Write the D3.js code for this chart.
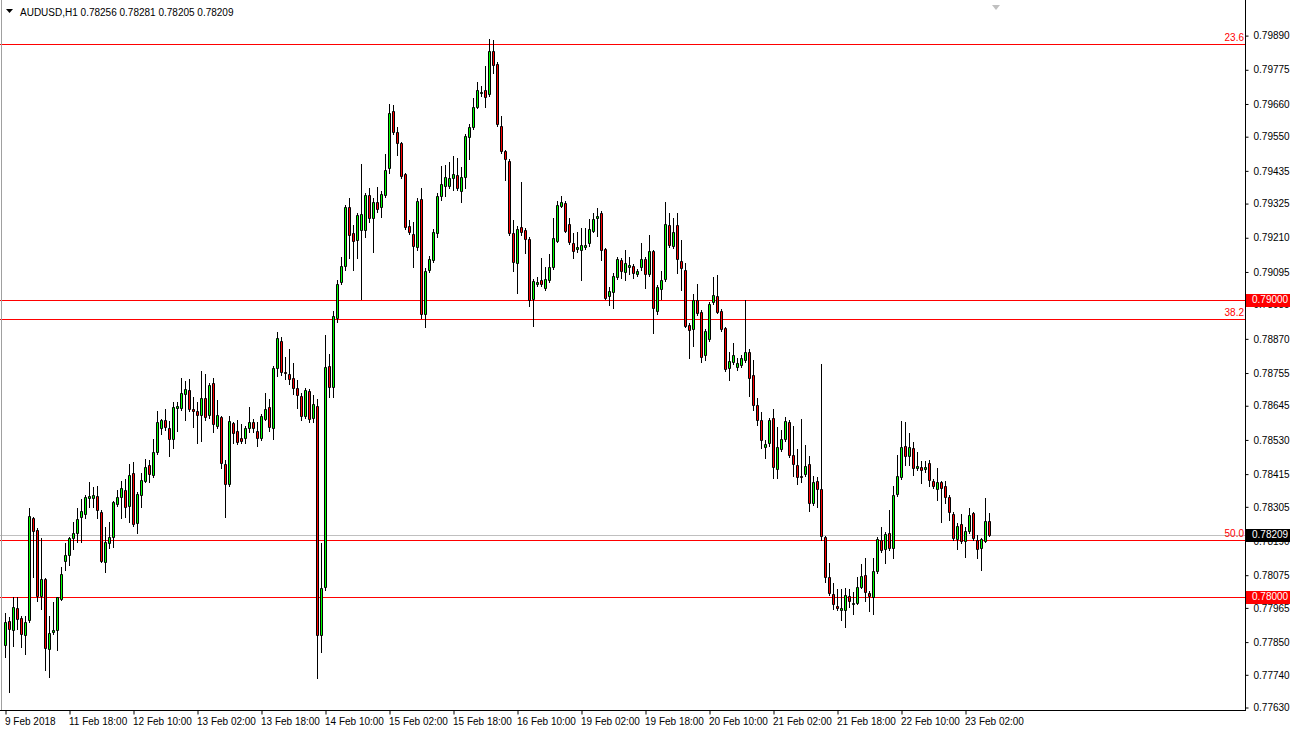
<!DOCTYPE html>
<html><head><meta charset="utf-8">
<script src="https://cdn.jsdelivr.net/npm/d3@7"></script>
<style>html,body{margin:0;padding:0;background:#fff;overflow:hidden}svg{display:block}</style>
</head><body><svg id="c" width="1291" height="733"></svg>
<script>
const symbolTitle = "AUDUSD,H1";
const opens = [
0.77838,0.77919,0.77889,0.77963,0.77929,0.77872,0.77922,0.78266,0.78225,0.78003,
0.78060,0.77825,0.77882,0.77889,0.77993,0.78121,0.78141,0.78198,0.78215,0.78269,
0.78279,0.78333,0.78333,0.78340,0.78286,0.78118,0.78182,0.78202,0.78313,0.78336,
0.78360,0.78306,0.78417,0.78249,0.78343,0.78390,0.78444,0.78410,0.78488,0.78568,
0.78595,0.78568,0.78531,0.78636,0.78636,0.78683,0.78696,0.78632,0.78626,0.78612,
0.78669,0.78612,0.78720,0.78575,0.78605,0.78447,0.78380,0.78585,0.78558,0.78535,
0.78535,0.78568,0.78589,0.78558,0.78535,0.78599,0.78639,0.78568,0.78770,0.78861,
0.78757,0.78750,0.78737,0.78703,0.78676,0.78609,0.78693,0.78602,0.78642,0.77872,
0.78034,0.78777,0.78706,0.78938,0.79060,0.79113,0.79312,0.79224,0.79201,0.79234,
0.79234,0.79352,0.79275,0.79329,0.79312,0.79352,0.79443,0.79635,0.79564,0.79527,
0.79423,0.79248,0.79221,0.79177,0.79339,0.78952,0.79100,0.79134,0.79224,0.79349,
0.79382,0.79382,0.79409,0.79419,0.79366,0.79413,0.79547,0.79581,0.79648,0.79695,
0.79705,0.79692,0.79837,0.79793,0.79584,0.79500,0.79466,0.79224,0.79123,0.79245,
0.79234,0.79204,0.79002,0.79053,0.79066,0.79039,0.79066,0.79110,0.79197,0.79315,
0.79325,0.79255,0.79191,0.79171,0.79167,0.79177,0.79191,0.79231,0.79275,0.79292,
0.79171,0.79012,0.79026,0.79076,0.79134,0.79093,0.79110,0.79113,0.79086,0.79110,
0.79137,0.79086,0.79164,0.78962,0.79036,0.79070,0.79251,0.79181,0.79251,0.79130,
0.79100,0.78915,0.78901,0.78999,0.78959,0.78814,0.78868,0.78992,0.79012,0.78962,
0.78905,0.78770,0.78790,0.78774,0.78780,0.78797,0.78824,0.78747,0.78646,0.78595,
0.78504,0.78518,0.78602,0.78430,0.78498,0.78531,0.78589,0.78478,0.78444,0.78407,
0.78414,0.78447,0.78316,0.78390,0.78363,0.78202,0.78067,0.78010,0.77970,0.77956,
0.77956,0.78003,0.77976,0.77980,0.78034,0.78074,0.78013,0.78000,0.78087,0.78192,
0.78161,0.78215,0.78165,0.78346,0.78403,0.78508,0.78474,0.78501,0.78434,0.78437,
0.78430,0.78451,0.78390,0.78363,0.78387,0.78373,0.78336,0.78279,0.78195,0.78246,
0.78188,0.78222,0.78283,0.78192,0.78165,0.78188,0.78256];
const highs = [
0.77946,0.77933,0.78000,0.78000,0.77936,0.77936,0.78299,0.78269,0.78232,0.78198,
0.78064,0.77936,0.77983,0.78000,0.78101,0.78182,0.78202,0.78252,0.78299,0.78330,
0.78343,0.78387,0.78370,0.78373,0.78293,0.78235,0.78252,0.78323,0.78360,0.78390,
0.78397,0.78447,0.78454,0.78353,0.78417,0.78464,0.78461,0.78531,0.78626,0.78599,
0.78632,0.78592,0.78656,0.78656,0.78737,0.78726,0.78733,0.78673,0.78656,0.78760,
0.78750,0.78720,0.78737,0.78663,0.78609,0.78461,0.78609,0.78589,0.78595,0.78582,
0.78575,0.78639,0.78599,0.78589,0.78615,0.78686,0.78666,0.78777,0.78891,0.78874,
0.78807,0.78834,0.78787,0.78730,0.78686,0.78703,0.78700,0.78679,0.78666,0.78182,
0.78881,0.78817,0.78962,0.79066,0.79144,0.79319,0.79342,0.79251,0.79292,0.79456,
0.79359,0.79376,0.79342,0.79379,0.79366,0.79490,0.79658,0.79655,0.79581,0.79530,
0.79426,0.79268,0.79261,0.79342,0.79376,0.79107,0.79147,0.79238,0.79359,0.79450,
0.79453,0.79463,0.79483,0.79477,0.79446,0.79557,0.79591,0.79678,0.79732,0.79719,
0.79786,0.79877,0.79874,0.79800,0.79618,0.79503,0.79473,0.79268,0.79248,0.79396,
0.79241,0.79211,0.79070,0.79076,0.79140,0.79110,0.79154,0.79275,0.79332,0.79349,
0.79332,0.79275,0.79224,0.79228,0.79241,0.79241,0.79271,0.79292,0.79308,0.79298,
0.79174,0.79043,0.79090,0.79144,0.79140,0.79167,0.79144,0.79120,0.79103,0.79191,
0.79144,0.79218,0.79167,0.79049,0.79097,0.79329,0.79292,0.79275,0.79292,0.79201,
0.79123,0.78922,0.79019,0.79053,0.78965,0.78901,0.78992,0.79076,0.79083,0.78969,
0.78908,0.78824,0.78854,0.78804,0.78814,0.78999,0.78834,0.78797,0.78669,0.78622,
0.78528,0.78602,0.78632,0.78572,0.78562,0.78605,0.78595,0.78575,0.78498,0.78599,
0.78511,0.78474,0.78407,0.78403,0.78784,0.78205,0.78114,0.78047,0.78027,0.78027,
0.78030,0.78027,0.78017,0.78067,0.78111,0.78131,0.78020,0.78131,0.78202,0.78235,
0.78219,0.78293,0.78373,0.78478,0.78592,0.78589,0.78552,0.78521,0.78488,0.78457,
0.78457,0.78461,0.78397,0.78434,0.78390,0.78390,0.78343,0.78286,0.78249,0.78279,
0.78235,0.78299,0.78286,0.78209,0.78198,0.78333,0.78281];
const lows = [
0.77798,0.77680,0.77835,0.77892,0.77832,0.77808,0.77916,0.78067,0.77986,0.77960,
0.77754,0.77731,0.77875,0.77822,0.77990,0.78091,0.78108,0.78161,0.78185,0.78185,
0.78266,0.78303,0.78303,0.78266,0.78118,0.78084,0.78165,0.78168,0.78306,0.78266,
0.78269,0.78252,0.78239,0.78215,0.78303,0.78387,0.78387,0.78403,0.78481,0.78548,
0.78562,0.78474,0.78501,0.78558,0.78629,0.78595,0.78626,0.78572,0.78518,0.78525,
0.78595,0.78602,0.78555,0.78568,0.78434,0.78269,0.78373,0.78518,0.78515,0.78518,
0.78518,0.78555,0.78555,0.78508,0.78528,0.78595,0.78558,0.78531,0.78743,0.78747,
0.78733,0.78716,0.78683,0.78636,0.78595,0.78602,0.78589,0.78589,0.77727,0.77815,
0.78024,0.78673,0.78673,0.78925,0.79053,0.79100,0.79140,0.79100,0.79140,0.79002,
0.79211,0.79261,0.79160,0.79295,0.79278,0.79345,0.79426,0.79557,0.79487,0.79409,
0.79238,0.79221,0.79110,0.79167,0.78938,0.78908,0.79093,0.79127,0.79211,0.79335,
0.79349,0.79376,0.79369,0.79369,0.79329,0.79376,0.79473,0.79574,0.79645,0.79685,
0.79648,0.79685,0.79763,0.79584,0.79493,0.79403,0.79218,0.79097,0.79023,0.79218,
0.79157,0.78979,0.78911,0.79046,0.79046,0.79033,0.79060,0.79103,0.79194,0.79312,
0.79228,0.79187,0.79140,0.79160,0.79066,0.79171,0.79181,0.79228,0.79214,0.79134,
0.79002,0.78982,0.78972,0.79070,0.79073,0.79066,0.79086,0.79073,0.79080,0.79100,
0.79039,0.79080,0.78888,0.78952,0.79002,0.79063,0.79177,0.79174,0.79090,0.79033,
0.78908,0.78804,0.78844,0.78948,0.78790,0.78797,0.78861,0.78985,0.78955,0.78895,
0.78760,0.78730,0.78784,0.78763,0.78774,0.78790,0.78676,0.78629,0.78579,0.78501,
0.78467,0.78508,0.78400,0.78400,0.78491,0.78525,0.78471,0.78407,0.78380,0.78387,
0.78407,0.78289,0.78309,0.78303,0.78192,0.78050,0.78007,0.77960,0.77956,0.77923,
0.77899,0.77966,0.77943,0.77976,0.78030,0.77986,0.77953,0.77943,0.78081,0.78151,
0.78114,0.78158,0.78131,0.78340,0.78397,0.78444,0.78444,0.78410,0.78427,0.78383,
0.78420,0.78373,0.78367,0.78326,0.78252,0.78316,0.78259,0.78192,0.78161,0.78182,
0.78135,0.78215,0.78192,0.78131,0.78091,0.78185,0.78205];
const closes = [
0.77916,0.77892,0.77966,0.77926,0.77875,0.77916,0.78272,0.78222,0.78003,0.78060,
0.77828,0.77879,0.77889,0.78000,0.78077,0.78141,0.78198,0.78215,0.78262,0.78289,
0.78336,0.78340,0.78343,0.78293,0.78121,0.78185,0.78202,0.78320,0.78336,0.78367,
0.78303,0.78410,0.78246,0.78346,0.78393,0.78437,0.78414,0.78488,0.78589,0.78595,
0.78572,0.78531,0.78639,0.78642,0.78686,0.78700,0.78632,0.78626,0.78612,0.78669,
0.78605,0.78713,0.78582,0.78612,0.78451,0.78380,0.78592,0.78552,0.78521,0.78525,
0.78568,0.78589,0.78568,0.78535,0.78609,0.78632,0.78572,0.78770,0.78871,0.78757,
0.78753,0.78733,0.78703,0.78679,0.78609,0.78696,0.78599,0.78649,0.77872,0.78030,
0.78774,0.78706,0.78945,0.79053,0.79113,0.79312,0.79218,0.79197,0.79285,0.79288,
0.79352,0.79275,0.79329,0.79305,0.79355,0.79436,0.79628,0.79564,0.79527,0.79416,
0.79245,0.79228,0.79181,0.79332,0.78952,0.79097,0.79137,0.79228,0.79349,0.79389,
0.79413,0.79409,0.79423,0.79376,0.79413,0.79551,0.79581,0.79648,0.79705,0.79699,
0.79682,0.79837,0.79789,0.79591,0.79500,0.79473,0.79224,0.79127,0.79238,0.79228,
0.79204,0.78999,0.79063,0.79060,0.79053,0.79070,0.79110,0.79208,0.79319,0.79329,
0.79231,0.79194,0.79164,0.79177,0.79184,0.79184,0.79238,0.79271,0.79282,0.79167,
0.79006,0.79029,0.79080,0.79137,0.79097,0.79123,0.79117,0.79090,0.79097,0.79137,
0.79086,0.79164,0.78972,0.79043,0.79066,0.79255,0.79184,0.79228,0.79137,0.79107,
0.78911,0.78898,0.78999,0.78955,0.78807,0.78895,0.78985,0.79016,0.78959,0.78901,
0.78767,0.78794,0.78814,0.78787,0.78804,0.78824,0.78737,0.78646,0.78595,0.78528,
0.78515,0.78595,0.78437,0.78504,0.78531,0.78592,0.78478,0.78447,0.78403,0.78403,
0.78441,0.78316,0.78387,0.78363,0.78205,0.78067,0.78013,0.77976,0.77963,0.77963,
0.78007,0.77986,0.77980,0.78034,0.78071,0.78017,0.78003,0.78087,0.78195,0.78158,
0.78212,0.78165,0.78343,0.78407,0.78504,0.78474,0.78504,0.78434,0.78441,0.78427,
0.78437,0.78393,0.78373,0.78387,0.78367,0.78336,0.78286,0.78198,0.78239,0.78188,
0.78222,0.78276,0.78198,0.78161,0.78195,0.78256,0.78209];
const priceTicks = [0.79890,0.79775,0.79660,0.79550,0.79435,0.79325,0.79210,0.79095,0.78985,0.78870,0.78755,0.78645,0.78530,0.78415,0.78305,0.78190,0.78075,0.77965,0.77850,0.77740,0.77630];
const timeLabels = ["9 Feb 2018","11 Feb 18:00","12 Feb 10:00","13 Feb 02:00","13 Feb 18:00","14 Feb 10:00","15 Feb 02:00","15 Feb 18:00","16 Feb 10:00","19 Feb 02:00","19 Feb 18:00","20 Feb 10:00","21 Feb 02:00","21 Feb 18:00","22 Feb 10:00","23 Feb 02:00"];
const barsPerLabel = 16;
const levelPrices = [0.79000, 0.78000];
const fibNames = ["23.6","38.2","50.0"];
const fibPrices = [0.79860, 0.78935, 0.78192];
const bidPrice = 0.78209;

const W = 1291, H = 733, plotRight = 1245, plotBottom = 710;
const FONT = "'Liberation Sans', Arial, sans-serif";
const UP = "#00ff00", DOWN = "#ff0000", LEVEL = "#ff0000";

const svg = d3.select("#c");
svg.append("rect").attr("width", W).attr("height", H).attr("fill", "#fff");

const n = opens.length;
const x = d3.scaleLinear().domain([0, n - 1]).range([5.5, 5.5 + 4 * (n - 1)]);
const y = d3.scaleLinear().domain([0.7763, 0.7989]).range([707, 35.1]);
const py = v => Math.round(y(v));

// horizontal levels
const g = svg.append("g");
g.append("line").attr("x1", 0).attr("x2", plotRight).attr("y1", py(bidPrice) + 0.5).attr("y2", py(bidPrice) + 0.5).attr("stroke", "#c0c0c0");
levelPrices.forEach(p => g.append("line").attr("x1", 0).attr("x2", plotRight).attr("y1", py(p) + 0.5).attr("y2", py(p) + 0.5).attr("stroke", LEVEL));
fibPrices.forEach((p, i) => {
  g.append("line").attr("x1", 0).attr("x2", plotRight).attr("y1", py(p) + 0.5).attr("y2", py(p) + 0.5).attr("stroke", LEVEL);
  g.append("text").attr("x", plotRight - 1).attr("y", py(p) - 3).attr("text-anchor", "end")
    .attr("font-family", FONT).attr("font-size", 10).attr("fill", LEVEL).text(fibNames[i]);
});

// candles
const cg = svg.append("g");
d3.range(n).forEach(i => {
  const cx = Math.round(x(i) - 0.5) + 0.5;
  const o = opens[i], c = closes[i];
  cg.append("line").attr("x1", cx).attr("x2", cx).attr("y1", py(highs[i])).attr("y2", py(lows[i]) + 1).attr("stroke", "#000");
  const top = py(Math.max(o, c)), bot = py(Math.min(o, c));
  cg.append("path").attr("d", `M${cx - 1},${top + 0.5}h2v${Math.max(bot - top, 0)}h-2z`)
    .attr("fill", c >= o ? UP : DOWN).attr("stroke", "#000").attr("stroke-width", 1);
});

// frame
svg.append("line").attr("x1", plotRight + 0.5).attr("x2", plotRight + 0.5).attr("y1", 0).attr("y2", plotBottom + 1).attr("stroke", "#000");
svg.append("line").attr("x1", 0).attr("x2", plotRight + 1).attr("y1", plotBottom + 0.5).attr("y2", plotBottom + 0.5).attr("stroke", "#000");
svg.append("line").attr("x1", 1.5).attr("x2", 1.5).attr("y1", 0).attr("y2", plotBottom).attr("stroke", "#a0a0a0");

// right axis
const ra = svg.append("g").attr("transform", `translate(${plotRight + 0.5},0.5)`)
  .call(d3.axisRight(y).tickValues(priceTicks).tickFormat(d3.format(".5f")).tickSize(3).tickPadding(5));
ra.select(".domain").remove();
ra.selectAll(".tick line").attr("stroke", "#000");
ra.selectAll(".tick text").attr("font-family", FONT).attr("font-size", 10).attr("fill", "#000");

// bottom axis
const ticksIdx = d3.range(0, n, barsPerLabel);
const ba = svg.append("g").attr("transform", `translate(0,${plotBottom + 0.5})`)
  .call(d3.axisBottom(x).tickValues(ticksIdx).tickFormat((d, i) => timeLabels[i]).tickSize(4).tickPadding(3));
ba.select(".domain").remove();
ba.selectAll(".tick line").attr("stroke", "#000");
ba.selectAll(".tick text").attr("text-anchor", "start").attr("dx", -1).attr("font-family", FONT).attr("font-size", 10).attr("fill", "#000");

// price labels on axis
function axisBox(p, fill) {
  const yy = py(p);
  svg.append("rect").attr("x", plotRight + 1).attr("y", yy - 6).attr("width", 44).attr("height", 13).attr("fill", fill);
  svg.append("text").attr("x", plotRight + 7).attr("y", yy + 0.5).attr("dominant-baseline", "middle")
    .attr("font-family", FONT).attr("font-size", 10).attr("fill", "#fff").text(d3.format(".5f")(p));
}
levelPrices.forEach(p => axisBox(p, "#ff0000"));
axisBox(bidPrice, "#000");

// header
svg.append("path").attr("d", "M6,9h7l-3.5,4z").attr("fill", "#000");
svg.append("text").attr("x", 20).attr("y", 16).attr("font-family", FONT).attr("font-size", 10).attr("fill", "#000")
  .text(`${symbolTitle}  ${d3.format(".5f")(opens[n-1])} ${d3.format(".5f")(highs[n-1])} ${d3.format(".5f")(lows[n-1])} ${d3.format(".5f")(closes[n-1])}`);
// chart shift marker
svg.append("path").attr("d", "M992,5h8l-4,5z").attr("fill", "#c0c0c0");
</script></body></html>
